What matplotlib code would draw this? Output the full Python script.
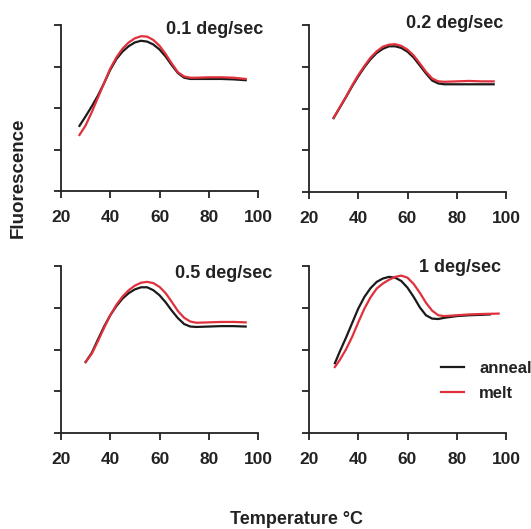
import matplotlib
matplotlib.use('Agg')
from matplotlib import pyplot as plt

plt.rcParams['font.family'] = ['Liberation Sans', 'DejaVu Sans']
plt.rcParams['font.weight'] = 'bold'

# 0.1 deg/sec
x_01_anneal = [27.5, 30, 32.5, 35, 37.5, 40, 42.5, 45, 47.5, 50, 52.5, 55, 57.5, 60, 62.5, 65, 67.5, 70, 72.5, 75, 80, 85, 90, 95]
y_01_anneal = [1.57, 1.80, 2.04, 2.30, 2.60, 2.92, 3.18, 3.36, 3.49, 3.58, 3.62, 3.60, 3.53, 3.41, 3.24, 3.03, 2.84, 2.73, 2.70, 2.70, 2.70, 2.70, 2.69, 2.67]
x_01_melt = [27.5, 30, 32.5, 35, 37.5, 40, 42.5, 45, 47.5, 50, 52.5, 55, 57.5, 60, 62.5, 65, 67.5, 70, 72.5, 75, 80, 85, 90, 95]
y_01_melt = [1.35, 1.58, 1.90, 2.25, 2.60, 2.95, 3.22, 3.43, 3.58, 3.68, 3.73, 3.72, 3.64, 3.50, 3.30, 3.07, 2.86, 2.76, 2.73, 2.73, 2.74, 2.74, 2.73, 2.70]

# 0.2 deg/sec
x_02_anneal = [30, 32.5, 35, 37.5, 40, 42.5, 45, 47.5, 50, 52.5, 55, 57.5, 60, 62.5, 65, 67.5, 70, 72.5, 75, 80, 85, 90, 95]
y_02_anneal = [1.77, 2.02, 2.27, 2.53, 2.77, 2.99, 3.18, 3.33, 3.43, 3.49, 3.49, 3.45, 3.36, 3.22, 3.03, 2.84, 2.67, 2.60, 2.58, 2.58, 2.58, 2.58, 2.58]
x_02_melt = [30, 32.5, 35, 37.5, 40, 42.5, 45, 47.5, 50, 52.5, 55, 57.5, 60, 62.5, 65, 67.5, 70, 72.5, 75, 80, 85, 90, 95]
y_02_melt = [1.78, 2.03, 2.28, 2.55, 2.80, 3.02, 3.22, 3.37, 3.48, 3.53, 3.54, 3.50, 3.41, 3.27, 3.08, 2.88, 2.72, 2.65, 2.64, 2.65, 2.66, 2.65, 2.65]

# 0.5 deg/sec
x_05_anneal = [30, 32.5, 35, 37.5, 40, 42.5, 45, 47.5, 50, 52.5, 55, 57.5, 60, 62.5, 65, 67.5, 70, 72.5, 75, 80, 85, 90, 95]
y_05_anneal = [1.70, 1.92, 2.24, 2.55, 2.82, 3.04, 3.22, 3.35, 3.44, 3.49, 3.49, 3.42, 3.30, 3.13, 2.93, 2.75, 2.61, 2.55, 2.54, 2.55, 2.56, 2.56, 2.55]
x_05_melt = [30, 32.5, 35, 37.5, 40, 42.5, 45, 47.5, 50, 52.5, 55, 57.5, 60, 62.5, 65, 67.5, 70, 72.5, 75, 80, 85, 90, 95]
y_05_melt = [1.70, 1.90, 2.20, 2.52, 2.82, 3.07, 3.27, 3.42, 3.53, 3.60, 3.62, 3.59, 3.50, 3.35, 3.14, 2.92, 2.76, 2.67, 2.64, 2.65, 2.66, 2.66, 2.65]

# 1 deg/sec
x_1_anneal = [30.5, 32.5, 35, 37.5, 40, 42.5, 45, 47.5, 50, 52.5, 55, 57.5, 60, 62.5, 65, 67.5, 70, 72.5, 75, 80, 85, 90, 93.5]
y_1_anneal = [1.67, 1.95, 2.28, 2.63, 2.98, 3.26, 3.47, 3.62, 3.70, 3.74, 3.72, 3.64, 3.48, 3.26, 3.01, 2.82, 2.74, 2.73, 2.76, 2.80, 2.82, 2.83, 2.84]
x_1_melt = [30.5, 32.5, 35, 37.5, 40, 42.5, 45, 47.5, 50, 52.5, 55, 57.5, 60, 62.5, 65, 67.5, 70, 72.5, 75, 80, 85, 90, 97]
y_1_melt = [1.58, 1.75, 2.00, 2.30, 2.65, 2.98, 3.25, 3.46, 3.58, 3.67, 3.74, 3.77, 3.72, 3.57, 3.36, 3.12, 2.93, 2.82, 2.80, 2.82, 2.84, 2.85, 2.86]

titles = ['0.1 deg/sec', '0.2 deg/sec', '0.5 deg/sec', '1 deg/sec']
xticks = [20, 40, 60, 80, 100]

panels = [
    (x_01_anneal, y_01_anneal, x_01_melt, y_01_melt),
    (x_02_anneal, y_02_anneal, x_02_melt, y_02_melt),
    (x_05_anneal, y_05_anneal, x_05_melt, y_05_melt),
    (x_1_anneal, y_1_anneal, x_1_melt, y_1_melt),
]

W, H = 531, 529
fig = plt.figure(figsize=(W / 100, H / 100), dpi=100)

# axes boxes in pixels: left, top, right, bottom
boxes = [(61, 25, 258, 191), (309, 25, 506, 192), (61, 266, 258, 433), (309, 266, 506, 433)]
# title anchor (right x, center y) in pixels
title_pos = [(263, 29), (503, 23), (272, 274), (501, 268)]

ink = '#222222'
red = '#e0303c'

for i, (xa, ya, xm, ym) in enumerate(panels):
    l, t, r, b = boxes[i]
    ax = fig.add_axes([l / W, 1 - b / H, (r - l) / W, (b - t) / H])
    ax.plot(xa, ya, color='#1a1a1a', lw=1.6, label='anneal')
    ax.plot(xm, ym, color=red, lw=1.6, label='melt')
    ax.set_xlim(20, 100)
    ax.set_ylim(0, 4)
    ax.set_xticks(xticks)
    ax.set_yticks([0, 1, 2, 3, 4])
    ax.set_yticklabels([])
    ax.spines['top'].set_visible(False)
    ax.spines['right'].set_visible(False)
    for s in ['left', 'bottom']:
        ax.spines[s].set_linewidth(1.3)
        ax.spines[s].set_color(ink)
    ax.tick_params(direction='out', length=5, width=1.3, color=ink,
                   labelsize=12.5, labelcolor=ink, pad=9)
    ax.patch.set_alpha(0)
    tx, ty = title_pos[i]
    fig.text(tx / W, 1 - ty / H, titles[i], ha='right', va='center',
             fontsize=13, fontweight='bold', color=ink)
    if i == 3:
        ax.legend(loc='upper left', bbox_to_anchor=(0.67, 0.43), frameon=False,
                  fontsize=12, handlelength=1.4, handletextpad=0.9,
                  labelspacing=0.6, borderpad=0, borderaxespad=0,
                  labelcolor=ink)

fig.text(18 / W, 1 - 178 / H, 'Fluorescence', rotation=90, ha='center', va='center',
         fontsize=13.5, fontweight='bold', color=ink)
fig.text(297 / W, 1 - 519 / H, 'Temperature °C', ha='center', va='center',
         fontsize=13, fontweight='bold', color=ink)

fig.savefig('out.png', dpi=100)
